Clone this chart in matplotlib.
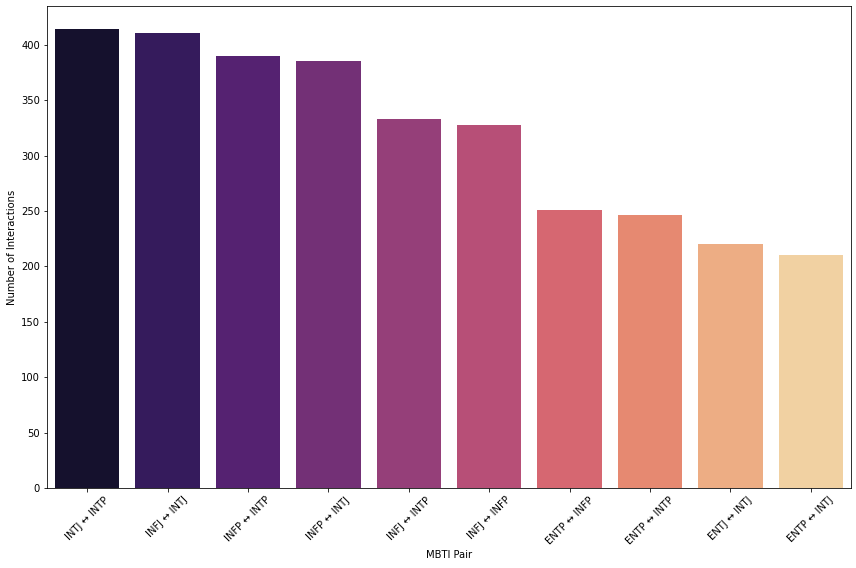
import matplotlib
matplotlib.use("Agg")
import matplotlib.pyplot as plt
import seaborn as sns
import pandas as pd

pairs = [
    "INTJ ↔ INTP", "INFJ ↔ INTJ", "INFP ↔ INTP", "INFP ↔ INTJ", "INFJ ↔ INTP",
    "INFJ ↔ INFP", "ENTP ↔ INFP", "ENTP ↔ INTP", "ENTJ ↔ INTJ", "ENTP ↔ INTJ",
]
counts = [414, 411, 390, 385, 333, 328, 251, 246, 220, 210]

df = pd.DataFrame({"pair": pairs, "count": counts})

W, H, DPI = 856, 568, 72
fig = plt.figure(figsize=(W / DPI, H / DPI), dpi=DPI)
ax = fig.add_axes([47 / W, (H - 488) / H, (851 - 47) / W, (488 - 6) / H])

sns.barplot(data=df, x="pair", y="count", hue="pair", palette="magma",
            legend=False, ax=ax)

ax.set_xlabel("MBTI Pair")
ax.set_ylabel("Number of Interactions")
ax.tick_params(axis="x", rotation=45)
ax.set_ylim(0, 435)

fig.savefig("out.png", dpi=DPI)
